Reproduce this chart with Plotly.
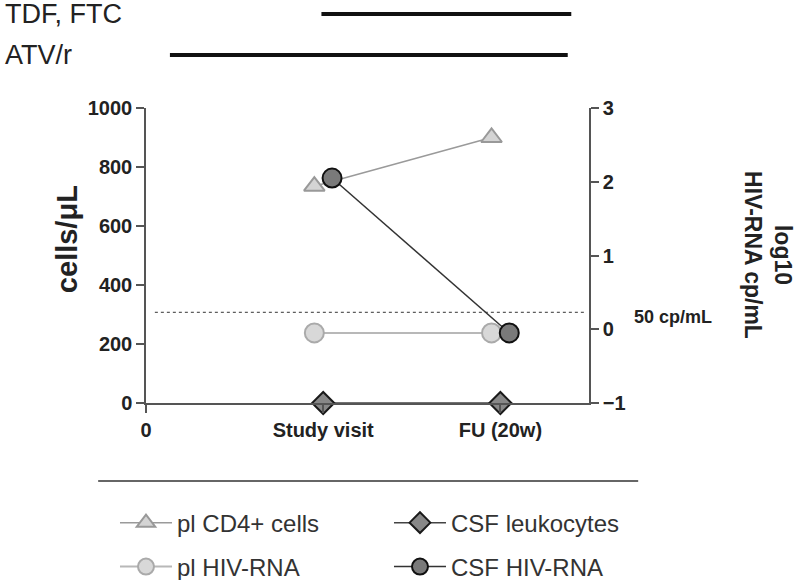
import plotly.graph_objects as go

# ---- data ----
x_tick_labels = ["0", "Study visit", "FU (20w)"]
visit_index = [1, 2]
cd4_cells = [735, 900]          # pl CD4+ cells (cells/uL, left axis)
csf_leukocytes = [0, 0]         # CSF leukocytes (cells/uL, left axis)
pl_hiv_rna = [-0.05, -0.05]     # log10 HIV-RNA cp/mL (right axis)
csf_hiv_rna = [2.05, -0.05]     # log10 HIV-RNA cp/mL (right axis)
detection_limit = 0.23          # 50 cp/mL line (right axis)

regimen_labels = ["TDF, FTC", "ATV/r"]
regimen_start = [0.99, 0.135]
regimen_end = [2.40, 2.38]

FONT = "Liberation Sans, Arial, sans-serif"

fig = go.Figure()

pl_off, csf_off = -0.05, 0.05

fig.add_trace(go.Scatter(
    x=[v + pl_off for v in visit_index], y=cd4_cells, name="pl CD4+ cells",
    mode="lines+markers", yaxis="y", cliponaxis=False, legend="legend",
    line=dict(color="#9a9a9a", width=1.5),
    marker=dict(symbol="triangle-up", size=18, color="#d4d4d4",
                line=dict(color="#999999", width=2))))
fig.add_trace(go.Scatter(
    x=visit_index, y=csf_leukocytes, name="CSF leukocytes",
    mode="lines+markers", yaxis="y", cliponaxis=False, legend="legend",
    line=dict(color="#444444", width=1.5),
    marker=dict(symbol="diamond", size=17, color="#888888",
                line=dict(color="#1a1a1a", width=2))))
fig.add_trace(go.Scatter(
    x=[v + pl_off for v in visit_index], y=pl_hiv_rna, name="pl HIV-RNA",
    mode="lines+markers", yaxis="y2", cliponaxis=False, legend="legend2",
    line=dict(color="#b8b8b8", width=2),
    marker=dict(symbol="circle", size=19, color="#d8d8d8",
                line=dict(color="#aaaaaa", width=2))))
fig.add_trace(go.Scatter(
    x=[v + csf_off for v in visit_index], y=csf_hiv_rna, name="CSF HIV-RNA",
    mode="lines+markers", yaxis="y2", cliponaxis=False, legend="legend2",
    line=dict(color="#333333", width=1.5),
    marker=dict(symbol="circle", size=19, color="#7a7a7a",
                line=dict(color="#111111", width=2))))

shapes = [
    dict(type="line", xref="x", yref="y2", x0=0.05, x1=2.48,
         y0=detection_limit, y1=detection_limit,
         line=dict(color="#333333", width=1, dash="dot")),
    dict(type="line", xref="paper", yref="paper", x0=-0.108, x1=1.111,
         y0=-0.264, y1=-0.264, line=dict(color="#666666", width=2)),
]
reg_y = [1.319, 1.18]
annotations = []
for lab, x0, x1, yy in zip(regimen_labels, regimen_start, regimen_end, reg_y):
    shapes.append(dict(type="line", xref="x", yref="paper", x0=x0, x1=x1,
                       y0=yy, y1=yy, line=dict(color="#111111", width=4)))
    annotations.append(dict(text=lab, xref="paper", yref="paper",
                            x=-0.322, y=yy, xanchor="left", yanchor="middle",
                            showarrow=False,
                            font=dict(family=FONT, size=27, color="#222222")))

annotations += [
    dict(text="50 cp/mL", xref="paper", yref="y2", x=1.097, y=0.17,
         xanchor="left", yanchor="middle", showarrow=False,
         font=dict(family=FONT, size=18, color="#222222", weight="bold")),
    dict(text="cells/μL", xref="paper", yref="paper", x=-0.178, y=0.556,
         xanchor="center", yanchor="middle", textangle=-90, showarrow=False,
         font=dict(family=FONT, size=29, color="#222222", weight="bold")),
    dict(text="log10<br>HIV-RNA cp/mL", xref="paper", yref="paper",
         x=1.405, y=0.5, xanchor="center", yanchor="middle", textangle=90,
         showarrow=False,
         font=dict(family=FONT, size=23, color="#222222", weight="bold")),
]

axis_common = dict(showgrid=False, zeroline=False, showline=True,
                   linecolor="#555555", linewidth=1.5, ticks="outside",
                   ticklen=8, tickwidth=1.5, tickcolor="#555555",
                   tickfont=dict(family=FONT, size=20, color="#222222",
                                 weight="bold"))

legend_common = dict(orientation="h", x=-0.07, xanchor="left",
                     yanchor="middle", entrywidth=207,
                     entrywidthmode="pixels", traceorder="normal",
                     itemwidth=52, itemsizing="trace",
                     font=dict(family=FONT, size=24, color="#333333"),
                     bgcolor="rgba(0,0,0,0)")

fig.update_layout(
    width=800, height=580,
    margin=dict(l=146, r=211, t=108, b=177, autoexpand=False),
    paper_bgcolor="white", plot_bgcolor="white",
    hovermode=False,
    xaxis=dict(range=[0, 2.5], tickvals=[0, 1, 2], ticktext=x_tick_labels,
               **axis_common),
    yaxis=dict(range=[0, 1000], tickvals=[0, 200, 400, 600, 800, 1000],
               **axis_common),
    yaxis2=dict(range=[-1, 3], tickvals=[-1, 0, 1, 2, 3], overlaying="y",
                side="right", **axis_common),
    shapes=shapes, annotations=annotations,
    showlegend=True,
    legend=dict(y=-0.407, **legend_common),
    legend2=dict(y=-0.556, **legend_common),
)

fig.write_html("out.html", config={"displayModeBar": False},
               post_script="document.body.style.margin='0';")
